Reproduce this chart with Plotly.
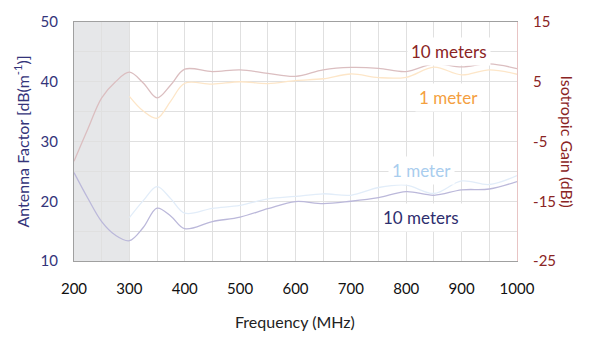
import plotly.graph_objects as go

# Frequency samples (MHz)
freq_10m_gain = [200, 225, 250, 275, 300, 325, 350, 375, 400, 450, 500, 550, 600,
                 650, 700, 750, 800, 850, 900, 950, 1000]
gain_10m = [-8.3, -2.9, 2.3, 5.0, 6.6, 4.8, 2.3, 4.5, 7.1, 6.7, 7.0, 6.4, 5.9,
            7.0, 7.4, 7.25, 6.7, 8.0, 7.5, 8.0, 7.2]

freq_1m = [300, 325, 350, 375, 400, 450, 500, 550, 600, 650, 700, 750, 800,
           850, 900, 950, 1000]
gain_1m = [2.55, 0.1, -1.1, 1.8, 4.75, 4.6, 5.0, 4.7, 5.2, 5.5, 6.3, 5.7, 5.75,
           7.45, 6.15, 7.0, 6.25]

freq_10m_af = freq_10m_gain
af_10m = [24.8, 20.5, 16.6, 14.3, 13.4, 15.6, 18.85, 17.5, 15.4, 16.6, 17.35,
          18.75, 19.95, 19.6, 20.0, 20.6, 21.6, 21.0, 21.9, 22.05, 23.3]

af_1m = [17.25, 20.1, 22.45, 20.4, 18.0, 18.8, 19.3, 20.4, 20.8, 21.25, 21.0,
         22.3, 22.7, 21.3, 23.4, 22.8, 24.3]

# Axis ticks
x_ticks = [200, 300, 400, 500, 600, 700, 800, 900, 1000]
af_ticks = [10, 20, 30, 40, 50]
gain_ticks = [-25, -15, -5, 5, 15]
gain_tick_text = ["-25", "-15", "-5", "5", "15"]

FONT = "Lato"
NAVY = "#34347a"
DARKRED = "#8a2424"

fig = go.Figure()

fig.add_trace(go.Scatter(x=freq_10m_gain, y=gain_10m, yaxis="y2", mode="lines",
                         line=dict(color="#dbbec0", width=1.3, shape="spline"),
                         hoverinfo="skip"))
fig.add_trace(go.Scatter(x=freq_1m, y=gain_1m, yaxis="y2", mode="lines",
                         line=dict(color="#fde6c8", width=1.3, shape="spline"),
                         hoverinfo="skip"))
fig.add_trace(go.Scatter(x=freq_1m, y=af_1m, mode="lines",
                         line=dict(color="#e2edf9", width=1.3, shape="spline"),
                         hoverinfo="skip"))
fig.add_trace(go.Scatter(x=freq_10m_af, y=af_10m, mode="lines",
                         line=dict(color="#bbb8da", width=1.3, shape="spline"),
                         hoverinfo="skip"))

# Shaded band below 300 MHz
fig.add_shape(type="rect", xref="x", yref="paper", x0=200, x1=300, y0=0, y1=1,
              fillcolor="#e6e7e9", line_width=0, layer="below")

labels = [
    dict(x=878, y=10.1, yref="y2", text="10 meters", color=DARKRED),
    dict(x=877, y=2.4, yref="y2", text="1 meter", color="#f4a040"),
    dict(x=827, y=25.2, yref="y", text="1 meter", color="#a9cdee"),
    dict(x=826, y=17.35, yref="y", text="10 meters", color="#2e2e6e"),
]
for lb in labels:
    fig.add_annotation(x=lb["x"], y=lb["y"], xref="x", yref=lb["yref"],
                       text=lb["text"], showarrow=False, bgcolor="white",
                       borderpad=3, font=dict(family=FONT, size=17, color=lb["color"]))

fig.add_annotation(x=0.4989, y=-0.253, xref="paper", yref="paper",
                   xanchor="center", yanchor="middle",
                   text="Frequency (MHz)", showarrow=False,
                   font=dict(family=FONT, size=16, color="#222"))
fig.add_annotation(x=-0.1174, y=0.50, xref="paper", yref="paper",
                   xanchor="center", yanchor="middle",
                   text="Antenna Factor [dB(m<sup>-1</sup>)]", showarrow=False,
                   textangle=-90, font=dict(family=FONT, size=16, color=NAVY))
fig.add_annotation(x=1.1129, y=0.50, xref="paper", yref="paper",
                   xanchor="center", yanchor="middle",
                   text="Isotropic Gain (dBi)", showarrow=False,
                   textangle=90, font=dict(family=FONT, size=16, color=DARKRED))

fig.update_layout(
    width=590, height=338,
    margin=dict(l=74, r=73, t=20, b=77),
    paper_bgcolor="white", plot_bgcolor="white",
    showlegend=False,
    xaxis=dict(range=[200, 1000], tickvals=x_ticks, showgrid=True,
               gridcolor="#e0e0e0", gridwidth=1,
               minor=dict(dtick=50, showgrid=True, gridcolor="#e0e0e0"),
               showline=True, linecolor="#a0a0a0", linewidth=1, mirror=True,
               ticks="", ticklabelstandoff=14, zeroline=False,
               tickfont=dict(family=FONT, size=15, color="#111")),
    yaxis=dict(range=[10, 50], tickvals=af_ticks, showgrid=True,
               gridcolor="#e0e0e0",
               minor=dict(dtick=5, showgrid=True, gridcolor="#e0e0e0"),
               showline=True, linecolor="#a0a0a0", linewidth=1.2,
               ticks="", ticklabelstandoff=12, zeroline=False,
               tickfont=dict(family=FONT, size=15, color=NAVY)),
    yaxis2=dict(range=[-25, 15], tickvals=gain_ticks, ticktext=gain_tick_text,
                overlaying="y", side="right", showgrid=False, zeroline=False,
                showline=True, linecolor="#e8c4c4", linewidth=1.2,
                ticks="", ticklabelstandoff=12,
                tickfont=dict(family=FONT, size=15, color=DARKRED)),
)

fig.write_html("out.html")
